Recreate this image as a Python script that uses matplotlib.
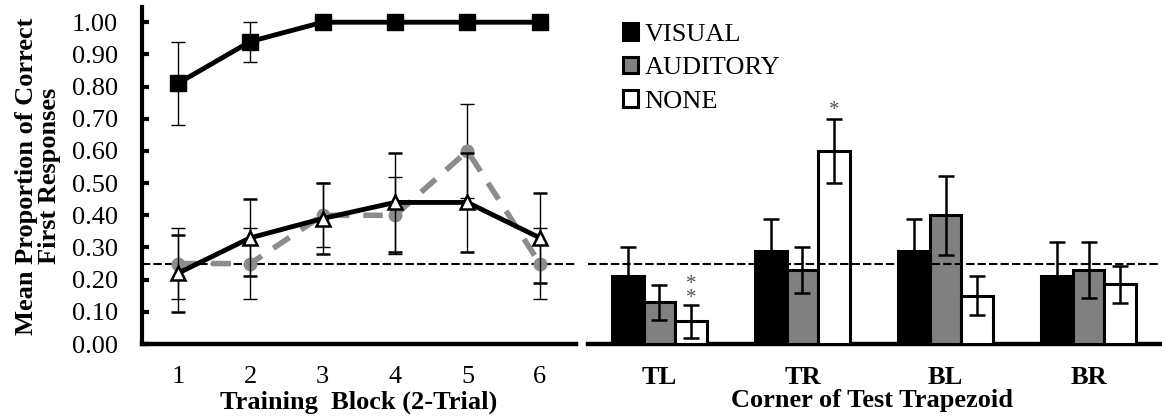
import matplotlib.pyplot as plt
import numpy as np

plt.rcParams['font.family'] = ['Liberation Serif', 'DejaVu Serif']

# training curves (left panel)
blocks = [1, 2, 3, 4, 5, 6]
visual = [0.81, 0.94, 1.00, 1.00, 1.00, 1.00]
visual_lo = [0.13, 0.065, 0, 0, 0, 0]
visual_hi = [0.13, 0.06, 0, 0, 0, 0]
auditory = [0.25, 0.25, 0.40, 0.40, 0.60, 0.25]
auditory_err = [0.11, 0.11, 0.10, 0.12, 0.145, 0.11]
none = [0.22, 0.33, 0.39, 0.44, 0.44, 0.33]
none_err = [0.12, 0.12, 0.11, 0.155, 0.155, 0.14]

# test bars (right panel)
corners = ['TL', 'TR', 'BL', 'BR']
bar_visual = [0.21, 0.29, 0.29, 0.21]
bar_visual_err = [0.09, 0.10, 0.10, 0.108]
bar_auditory = [0.13, 0.23, 0.40, 0.23]
bar_auditory_err = [0.054, 0.07, 0.123, 0.086]
bar_none = [0.07, 0.60, 0.15, 0.185]
bar_none_err = [0.05, 0.10, 0.06, 0.058]

chance = 0.25
fs = 19

fig = plt.figure(figsize=(11.62, 4.17), dpi=100)
ax1 = fig.add_axes([0.122, 0.175, 0.3737, 0.808])
ax2 = fig.add_axes([0.506, 0.175, 0.4923, 0.808])

# ---- left panel
ax1.errorbar(blocks, auditory, yerr=auditory_err, color='#8c8c8c', lw=4,
             dashes=(3.5, 2.5), marker='o', ms=9, mfc='#8c8c8c', mec='#8c8c8c',
             ecolor='black', elinewidth=1, capsize=5, capthick=1, zorder=3)
ax1.errorbar(blocks, none, yerr=none_err, color='black', lw=3.5,
             marker='^', ms=10, mfc='white', mec='black', mew=1.8,
             ecolor='black', elinewidth=1, capsize=5, capthick=1, zorder=4)
ax1.errorbar(blocks, visual, yerr=[visual_lo, visual_hi], color='black', lw=3.5,
             marker='s', ms=11, mfc='black', mec='black',
             ecolor='black', elinewidth=1, capsize=5, capthick=1, zorder=4)
ax1.axhline(chance, color='black', lw=1.5, dashes=(4, 1.5), zorder=2)

ax1.set_xlim(0.5, 6.5)
ax1.set_ylim(0, 1.047)
ax1.set_yticks(np.arange(0, 1.01, 0.1))
ax1.set_yticklabels(['%.2f' % v for v in np.arange(0, 1.01, 0.1)])
ax1.set_xticks(blocks)
ax1.tick_params(axis='y', direction='in', length=5, width=3, labelsize=fs, pad=17)
ax1.tick_params(axis='x', length=0, labelsize=fs, pad=16)
for s in ['top', 'right']:
    ax1.spines[s].set_visible(False)
ax1.spines['left'].set_linewidth(3)
ax1.spines['bottom'].set_linewidth(3.2)

fig.text(359 / 1162, 1 - 402 / 417, 'Training  Block (2-Trial)', fontsize=fs,
         fontweight='bold', ha='center', va='center')
fig.text(38 / 1162, 1 - 176 / 417, 'Mean Proportion of Correct\nFirst Responses',
         fontsize=fs, fontweight='bold', ha='center', va='center', rotation=90,
         linespacing=0.95)

# ---- right panel
x = np.arange(len(corners))
w = 0.222
ekw = dict(elinewidth=1.8, capsize=5.5, capthick=1.8, ecolor='black')
ax2.bar(x - w, bar_visual, w, yerr=bar_visual_err, color='black', edgecolor='black',
        lw=2.2, label='VISUAL', error_kw=ekw, zorder=3)
ax2.bar(x, bar_auditory, w, yerr=bar_auditory_err, color='#808080', edgecolor='black',
        lw=2.2, label='AUDITORY', error_kw=ekw, zorder=3)
ax2.bar(x + w, bar_none, w, yerr=bar_none_err, color='white', edgecolor='black',
        lw=2.2, label='NONE', error_kw=ekw, zorder=3)
ax2.axhline(chance, color='black', lw=1.5, dashes=(4, 1.5), zorder=4)

ax2.text(x[0] + w, 0.127, '*\n*', ha='center', va='baseline', fontsize=15,
         color='#555555', linespacing=0.62)
ax2.text(x[1] + w, 0.712, '*', ha='center', va='baseline', fontsize=15,
         color='#555555')

ax2.set_xlim(-0.5, 3.5)
ax2.set_ylim(0, 1.047)
ax2.set_yticks([])
ax2.set_xticks(x)
ax2.set_xticklabels(corners, fontweight='bold')
ax2.tick_params(axis='x', length=0, labelsize=fs, pad=16)
for s in ['top', 'right', 'left']:
    ax2.spines[s].set_visible(False)
ax2.spines['bottom'].set_linewidth(3.2)
fig.text(872 / 1162, 1 - 400 / 417, 'Corner of Test Trapezoid', fontsize=fs,
         fontweight='bold', ha='center', va='center')

ax2.legend(loc='upper left', bbox_to_anchor=(0.061, 0.952), frameon=False,
           fontsize=fs, handlelength=0.57, handleheight=0.57, handletextpad=0.25,
           labelspacing=0.42, borderpad=0, borderaxespad=0)

fig.savefig('out.png', dpi=100)
